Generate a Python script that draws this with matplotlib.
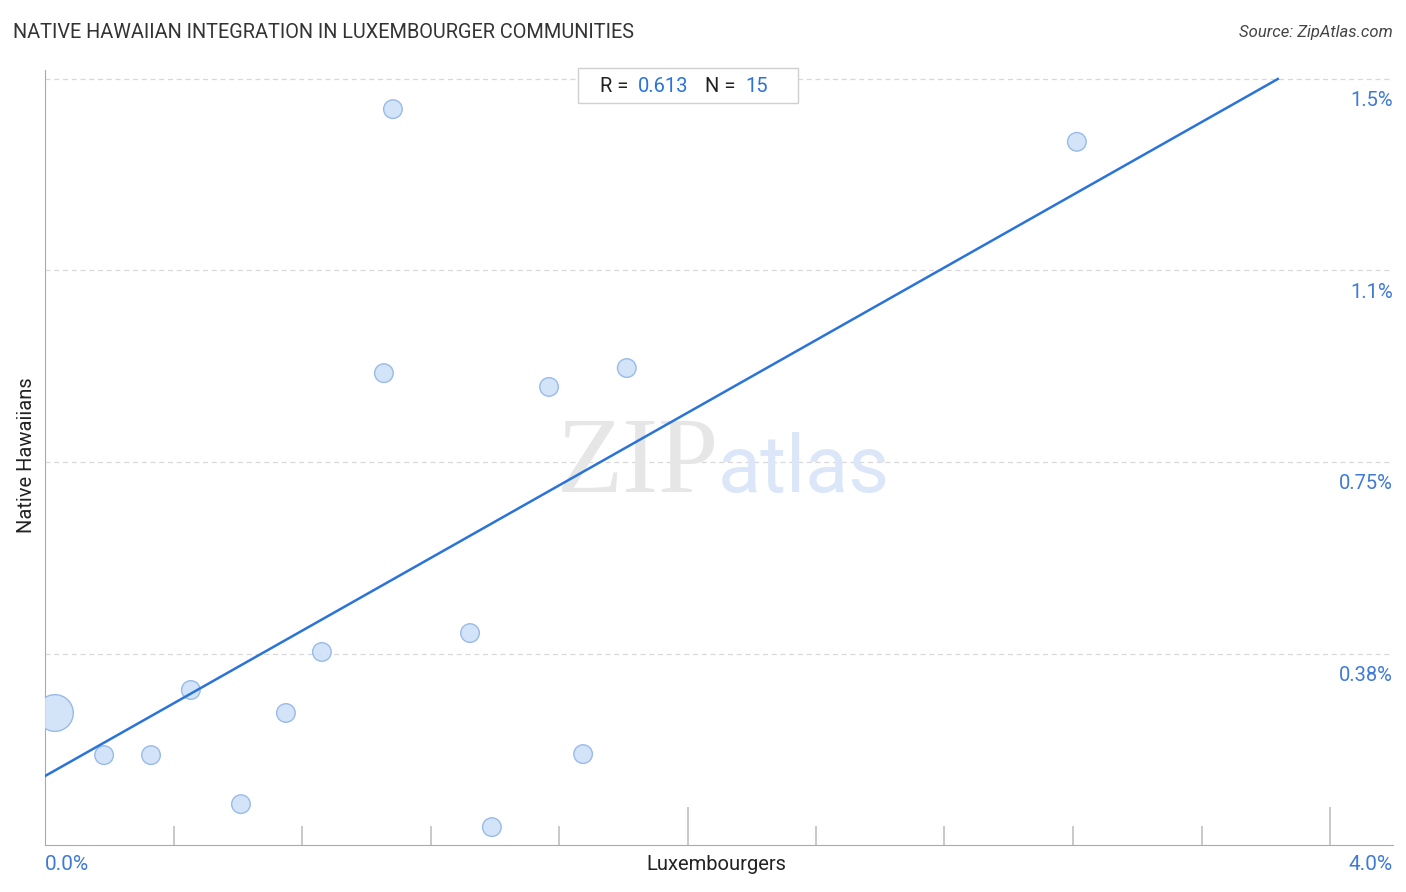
import numpy as np
import matplotlib.pyplot as plt
from matplotlib.patches import Rectangle

plt.rcParams['font.family'] = ['Roboto', 'DejaVu Sans']

# Data (percent)
lux_pct = [0.031, 0.184, 0.330, 0.454, 0.610, 0.750, 0.862, 1.055, 1.083,
           1.323, 1.391, 1.569, 1.675, 1.811, 3.212]
haw_pct = [0.2585, 0.176, 0.176, 0.3035, 0.080, 0.2585, 0.378, 0.924, 1.441,
           0.415, 0.035, 0.897, 0.178, 0.934, 1.377]
big = [1, 0, 0, 0, 0, 0, 0, 0, 0, 0, 0, 0, 0, 0, 0]

trend_intercept = 0.135
trend_slope = 0.3557

y_ticks = [0.375, 0.75, 1.125, 1.5]
y_tick_labels = ["0.38%", "0.75%", "1.1%", "1.5%"]
x_minor = [0.4, 0.8, 1.2, 1.6, 2.4, 2.8, 3.2, 3.6]
x_major = [2.0, 4.0]

W, H = 1406, 892
fig = plt.figure(figsize=(W / 100, H / 100), dpi=100)
ax = fig.add_axes([45 / W, (H - 845) / H, (1393 - 45) / W, (845 - 70) / H])

xmax = (1393 - 45) / 1285 * 4.0
ymax = (845 - 70) / 191.5 * 0.375
ax.set_xlim(0, xmax)
ax.set_ylim(0, ymax)

# gridlines
for yt in y_ticks:
    ax.axhline(yt, color='#d8d8d8', lw=0.9, ls=(0, (4, 3)), zorder=0)

# tick marks on bottom axis
ax.vlines(x_minor, 0, 0.037, color='#c0c0c0', lw=1.2, zorder=1)
ax.vlines(x_major, 0, 0.074, color='#c0c0c0', lw=1.2, zorder=1)

# watermark
ax.text(0.380, 0.4555, "ZIP", transform=ax.transAxes, fontsize=78,
        family='Liberation Serif', color='#e6e6e6', ha='left', va='baseline', zorder=0)
ax.text(0.4993, 0.4555, "atlas", transform=ax.transAxes, fontsize=57,
        color='#dbe7f8', ha='left', va='baseline', zorder=0)

# points
sizes = [700 if b else 180 for b in big]
ax.scatter(lux_pct, haw_pct, s=sizes, facecolor='#cfe0f8', edgecolor='#8fb5e6',
           linewidth=1.0, alpha=0.9, zorder=3)

# trend line
xl = np.array([0, (1.5 - trend_intercept) / trend_slope])
ax.plot(xl, trend_intercept + trend_slope * xl, color='#2a73d9', lw=1.8, zorder=4)

# spines
for s in ['top', 'right']:
    ax.spines[s].set_visible(False)
ax.spines['left'].set_color('#aaaaaa')
ax.spines['bottom'].set_color('#aaaaaa')
ax.set_xticks([])
ax.set_yticks([])

# y tick labels, right side below gridlines
for yt, lab in zip(y_ticks, y_tick_labels):
    ax.annotate(lab, xy=(1.0, yt), xycoords=('axes fraction', 'data'),
                xytext=(0, -9), textcoords='offset points', ha='right', va='top',
                fontsize=14.5, color='#3f7ad6')

# x labels
fig.text(45 / W, 1 - 864 / H, "0.0%", ha='left', va='center', fontsize=15, color='#3f7ad6')
fig.text(1393 / W, 1 - 864 / H, "4.0%", ha='right', va='center', fontsize=15, color='#3f7ad6')
fig.text(716 / W, 1 - 864 / H, "Luxembourgers", ha='center', va='center', fontsize=14.5, color='#222222')
fig.text(27 / W, 1 - 455 / H, "Native Hawaiians", ha='center', va='center', rotation=90,
         fontsize=14.5, color='#222222')

# title and source
fig.text(13 / W, 1 - 33 / H, "NATIVE HAWAIIAN INTEGRATION IN LUXEMBOURGER COMMUNITIES",
         ha='left', va='center', fontsize=14.3, color='#333333')
fig.text(1393 / W, 1 - 33 / H, "Source: ZipAtlas.com", ha='right', va='center',
         fontsize=12, style='italic', color='#444444')

# R / N box
fig.patches.append(Rectangle((578 / W, 1 - 103 / H), 220 / W, 35 / H, transform=fig.transFigure,
                             facecolor='white', edgecolor='#d0d0d0', lw=1.0, zorder=5))
fig.text(633 / W, 1 - 86 / H, "R = ", ha='right', va='center', fontsize=14.5, color='#222222', zorder=6)
fig.text(638 / W, 1 - 86 / H, "0.613", ha='left', va='center', fontsize=14.5, color='#2a73d9', zorder=6)
fig.text(741 / W, 1 - 86 / H, "N = ", ha='right', va='center', fontsize=14.5, color='#222222', zorder=6)
fig.text(745 / W, 1 - 86 / H, "15", ha='left', va='center', fontsize=14.5, color='#2a73d9', zorder=6)

fig.savefig('out.png', dpi=100)
